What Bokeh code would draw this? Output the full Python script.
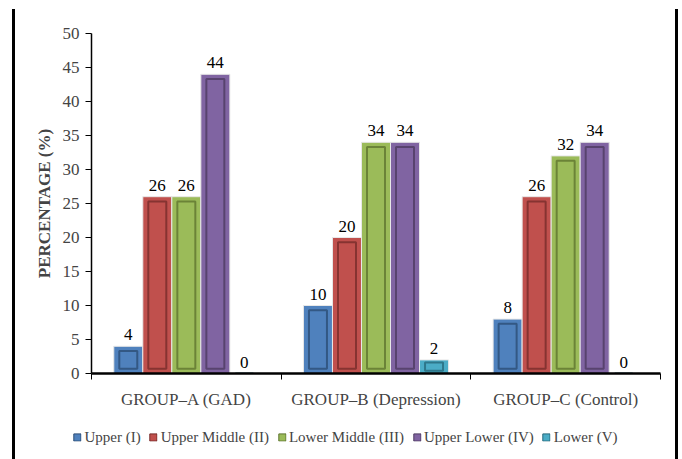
from bokeh.plotting import figure
from bokeh.models import (ColumnDataSource, FixedTicker, Legend, LegendItem, Range1d,
                          Div, Spacer)
from bokeh.layouts import row, column
from bokeh.core.properties import value
from bokeh.embed import file_html
from bokeh.resources import INLINE

# Socio-economic class distribution (%) per study group
groups = ["GROUP\u2013A (GAD)", "GROUP\u2013B (Depression)", "GROUP\u2013C (Control)"]
classes = ["Upper (I)", "Upper Middle (II)", "Lower Middle (III)", "Upper Lower (IV)", "Lower (V)"]
upper = [4, 10, 8]
upper_middle = [26, 20, 26]
lower_middle = [26, 34, 32]
upper_lower = [44, 34, 34]
lower = [0, 2, 0]
series = [upper, upper_middle, lower_middle, upper_lower, lower]
y_ticks = [0, 5, 10, 15, 20, 25, 30, 35, 40, 45, 50]

fills = ["#4F81BD", "#C0504D", "#9BBB59", "#8064A2", "#4BACC6"]
edges = ["#2C4D75", "#772C2A", "#5F7530", "#4D3B62", "#276A7C"]

FONT = "Liberation Serif"
FS = "17px"

p = figure(width=660, height=415, output_backend="svg", toolbar_location=None,
           x_range=Range1d(0, 3), y_range=Range1d(0, 50),
           min_border_left=76, min_border_right=15, min_border_top=33,
           min_border_bottom=42)
p.grid.visible = False
p.outline_line_color = None

bar_w = 0.153
for i, (name, vals) in enumerate(zip(classes, series)):
    xs = [g + 0.5 + (i - 2) * bar_w for g in range(len(groups))]
    src = ColumnDataSource(dict(x=xs, top=vals, lab=[str(v) for v in vals]))
    p.vbar(x="x", top="top", bottom=0, width=bar_w, source=src,
           fill_color=fills[i], line_color="#E8E8E8", line_width=1)
    # inner bevel panel
    inset = [min(0.7, v * 0.2) for v in vals]
    inner = ColumnDataSource(dict(x=xs, top=[v - d for v, d in zip(vals, inset)],
                                  bottom=inset))
    p.vbar(x="x", top="top", bottom="bottom", width=bar_w * 0.62, source=inner,
           fill_color=fills[i], line_color=edges[i], line_width=2, line_alpha=0.8)
    p.text(x="x", y="top", text="lab", source=src, text_align="center",
           text_baseline="bottom", y_offset=-6, text_font=value(FONT),
           text_font_size=FS, text_color="black")

yax = p.yaxis[0]
yax.ticker = FixedTicker(ticks=y_ticks)
yax.axis_label = "PERCENTAGE (%)"
yax.axis_label_text_font = FONT
yax.axis_label_text_font_style = "bold"
yax.axis_label_text_font_size = "17px"
yax.axis_label_standoff = 6
yax.major_label_text_font = FONT
yax.major_label_text_font_size = FS
yax.major_tick_out = 6
yax.major_tick_in = 0
yax.minor_tick_out = 0
yax.axis_line_width = 1.5
yax.major_label_standoff = 6

xax = p.xaxis[0]
xax.ticker = FixedTicker(ticks=[0.5, 1.5, 2.5], minor_ticks=[0, 1, 2, 3])
xax.major_label_overrides = {0.5: groups[0], 1.5: groups[1], 2.5: groups[2]}
xax.major_label_text_font = FONT
xax.major_label_text_font_size = FS
xax.major_tick_out = 0
xax.major_tick_in = 0
xax.minor_tick_out = 6
xax.minor_tick_in = 0
xax.axis_line_width = 2.5
xax.major_label_standoff = 10

# legend strip below the chart; its renderers carry a single zero-size bar
lp = figure(width=660, height=44, output_backend="svg", toolbar_location=None,
            x_range=Range1d(0, 1), y_range=Range1d(0, 1),
            x_axis_location=None, y_axis_location=None,
            min_border=0, outline_line_color=None)
lp.grid.visible = False
items = []
for i, name in enumerate(classes):
    r = lp.vbar(x=[0.5], top=[0], bottom=[0], width=0, fill_color=fills[i],
                line_color=edges[i], line_width=1)
    items.append(LegendItem(label=name, renderers=[r]))
legend = Legend(items=items, orientation="horizontal", location="center",
                label_text_font=FONT, label_text_font_size="15px",
                glyph_width=9, glyph_height=9, label_standoff=3, spacing=8,
                border_line_color=None, background_fill_alpha=0, padding=0, margin=0)
lp.add_layout(legend, "center")

# page frame: vertical rules either side of the chart
left_rule = Div(width=3, height=450, margin=(9, 0, 0, 0),
                styles={"background-color": "black"})
right_rule = Div(width=3, height=450, margin=(9, 0, 0, 0),
                 styles={"background-color": "black"})
page = row(Spacer(width=12, height=459), left_rule,
           column(p, row(lp, spacing=0), spacing=0),
           right_rule, spacing=0)

open("out.html", "w").write(file_html(page, INLINE))
